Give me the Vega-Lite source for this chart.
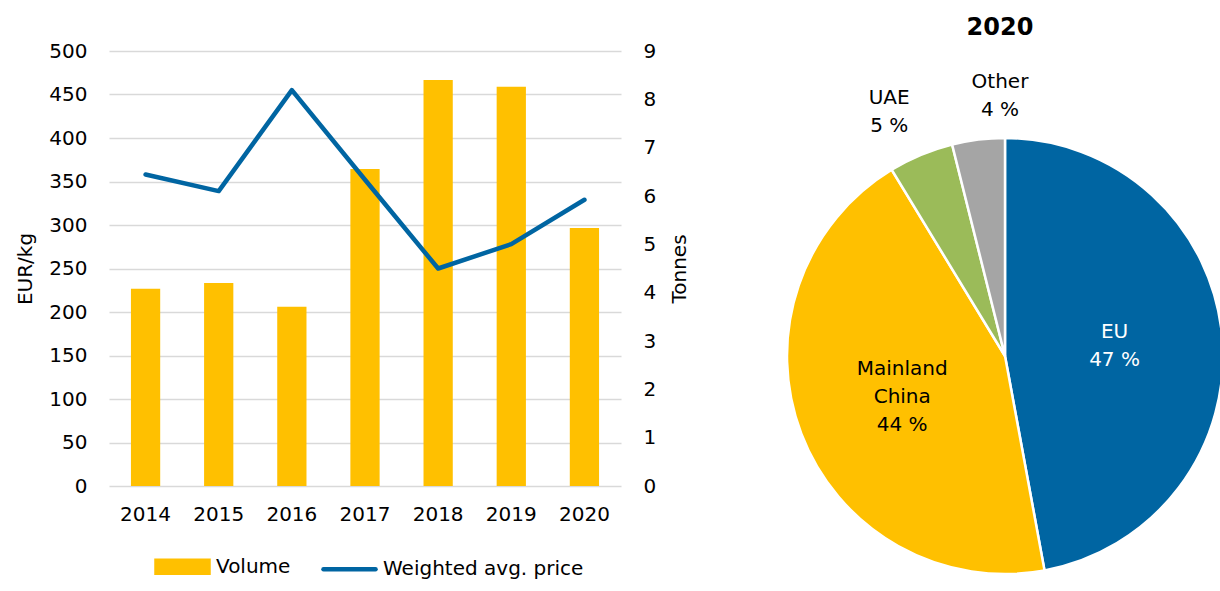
{
  "$schema": "https://vega.github.io/schema/vega-lite/v6.json",
  "background": "white",
  "padding": {"left": 15, "top": 16, "right": 0, "bottom": 0},
  "config": {
    "font": "DejaVu Sans",
    "view": {"stroke": null},
    "axis": {"labelFont": "DejaVu Sans", "titleFont": "DejaVu Sans", "labelColor": "#000000", "titleColor": "#000000", "labelFontSize": 20, "titleFontSize": 20, "titleFontWeight": "normal"},
    "legend": {"labelFont": "DejaVu Sans", "labelFontSize": 20, "labelColor": "#000000"},
    "title": {"font": "DejaVu Sans", "color": "#000000"}
  },
  "resolve": {"scale": {"color": "independent"}, "legend": {"color": "independent"}},
  "spacing": 54,
  "hconcat": [
    {
      "width": 512,
      "height": 435,
      "data": {"values": [
        {"year": "2014", "volume": 4.08, "price": 358},
        {"year": "2015", "volume": 4.2, "price": 339},
        {"year": "2016", "volume": 3.71, "price": 455},
        {"year": "2017", "volume": 6.56, "price": 352},
        {"year": "2018", "volume": 8.4, "price": 250},
        {"year": "2019", "volume": 8.26, "price": 278},
        {"year": "2020", "volume": 5.34, "price": 329}
      ]},
      "encoding": {
        "x": {"field": "year", "type": "ordinal", "scale": {"paddingInner": 0.6, "paddingOuter": 0.3},
              "axis": {"title": null, "labelAngle": 0, "ticks": false, "domain": false, "grid": false, "labelPadding": 18}}
      },
      "layer": [
        {
          "mark": {"type": "bar"},
          "encoding": {
            "y": {"field": "volume", "type": "quantitative", "scale": {"domain": [0, 9]},
                  "axis": {"orient": "right", "title": "Tonnes", "values": [0,1,2,3,4,5,6,7,8,9], "grid": false, "ticks": false, "domain": false, "labelPadding": 22, "titlePadding": 14, "titleAngle": 270, "titleBaseline": "top"}},
            "color": {"datum": "Volume", "type": "nominal",
                      "scale": {"domain": ["Volume", "Weighted avg. price"], "range": ["#FFC000", "#0065A2"]},
                      "legend": {
                        "title": null, "orient": "none", "legendX": 45, "legendY": 487, "padding": 0,
                        "direction": "horizontal", "labelLimit": 0,
                        "symbolSize": 2704, "columnPadding": 23, "labelOffset": 5,
                        "symbolStrokeWidth": 4.5,
                        "encode": {"symbols": {"update": {
                          "shape": {"signal": "datum.value === 'Volume' ? 'M-1,-0.23H1V0.23H-1Z' : 'stroke'"},
                          "fill": {"signal": "datum.value === 'Volume' ? '#FFC000' : 'transparent'"},
                          "stroke": {"signal": "datum.value === 'Volume' ? 'transparent' : '#0065A2'"},
                          "strokeWidth": {"value": 4.5},
                          "strokeCap": {"value": "round"},
                          "opacity": {"value": 1}
                        }}}
                      }}
          }
        },
        {
          "mark": {"type": "line", "strokeWidth": 4.5, "strokeCap": "round", "strokeJoin": "round"},
          "encoding": {
            "y": {"field": "price", "type": "quantitative", "scale": {"domain": [0, 500]},
                  "axis": {"orient": "left", "title": "EUR/kg", "values": [0,50,100,150,200,250,300,350,400,450,500], "grid": true, "gridColor": "#D9D9D9", "gridWidth": 1.3, "ticks": false, "domain": false, "labelPadding": 22, "titlePadding": 13}},
            "color": {"datum": "Weighted avg. price", "type": "nominal"}
          }
        }
      ],
      "resolve": {"scale": {"y": "independent"}}
    },
    {
      "width": 436,
      "height": 610,
      "title": {"text": "2020", "fontSize": 24, "fontWeight": "bold", "offset": 11, "anchor": "middle", "dx": -5},
      "data": {"values": [
        {"region": "EU", "share": 47.1, "ord": 1, "euLabel": "EU\n47 %", "chinaLabel": "", "uaeLabel": "", "otherLabel": ""},
        {"region": "Mainland China", "share": 44.2, "ord": 2, "euLabel": "", "chinaLabel": "Mainland\nChina\n44 %", "uaeLabel": "", "otherLabel": ""},
        {"region": "UAE", "share": 4.8, "ord": 3, "euLabel": "", "chinaLabel": "", "uaeLabel": "UAE\n5 %", "otherLabel": ""},
        {"region": "Other", "share": 3.9, "ord": 4, "euLabel": "", "chinaLabel": "", "uaeLabel": "", "otherLabel": "Other\n4 %"}
      ]},
      "encoding": {
        "theta": {"field": "share", "type": "quantitative", "stack": true},
        "order": {"field": "ord", "type": "quantitative"}
      },
      "layer": [
        {
          "mark": {"type": "arc", "outerRadius": 218, "stroke": "white", "strokeWidth": 2.5},
          "encoding": {
            "color": {"field": "region", "type": "nominal",
                      "scale": {"domain": ["EU", "Mainland China", "UAE", "Other"], "range": ["#0065A2", "#FFC000", "#9BBB59", "#A5A5A5"]},
                      "legend": null}
          }
        },
        {
          "mark": {"type": "text", "radius": 110, "dy": -14, "fontSize": 20, "lineBreak": "\n", "lineHeight": 28, "align": "center", "baseline": "middle", "color": "white"},
          "encoding": {"text": {"field": "euLabel", "type": "nominal"}}
        },
        {
          "mark": {"type": "text", "radius": 110, "dy": -26, "fontSize": 20, "lineBreak": "\n", "lineHeight": 28, "align": "center", "baseline": "middle", "color": "black"},
          "encoding": {"text": {"field": "chinaLabel", "type": "nominal"}}
        },
        {
          "mark": {"type": "text", "radius": 264, "dx": -14, "dy": -14, "fontSize": 20, "lineBreak": "\n", "lineHeight": 28, "align": "center", "baseline": "middle", "color": "black"},
          "encoding": {"text": {"field": "uaeLabel", "type": "nominal"}}
        },
        {
          "mark": {"type": "text", "radius": 262, "dx": 27, "dy": -14, "fontSize": 20, "lineBreak": "\n", "lineHeight": 28, "align": "center", "baseline": "middle", "color": "black"},
          "encoding": {"text": {"field": "otherLabel", "type": "nominal"}}
        }
      ]
    }
  ]
}
